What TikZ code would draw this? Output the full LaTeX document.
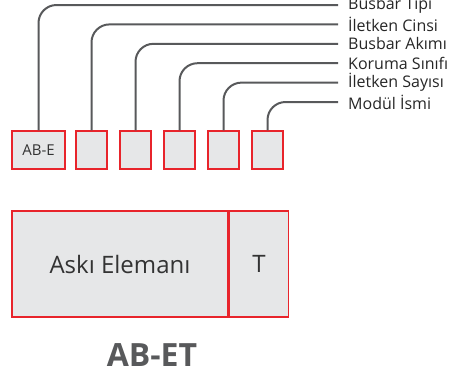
\documentclass[tikz,border=0pt]{standalone}
\usepackage{fontspec}
\setmainfont{Open Sans}
\usetikzlibrary{positioning}
\definecolor{myred}  {RGB}{232, 36, 43}
\definecolor{mygray} {RGB}{230, 231, 232}
\definecolor{myline} {RGB}{88, 89, 91}

\begin{document}
\begin{tikzpicture}[x=1bp, y=-1bp,
        cell/.style={draw=myred, fill=mygray, line width=1.5bp, minimum height=38bp, inner sep=0pt, text=black!80},
        lbl/.style={anchor=west, inner xsep=10bp, inner ysep=0pt, text=black!85, font=\fontsize{16bp}{16bp}\selectfont},
        lead/.style={draw=myline, line width=2bp, rounded corners=18bp}]
        \useasboundingbox (0,0) rectangle (450,378);
        % code boxes
        \node[cell, minimum width=53bp, font=\fontsize{15bp}{16bp}\selectfont] (b0) at (38.5,150) {AB-E};
        \foreach \i/\x in {1/91.5, 2/135.5, 3/179.5, 4/223.5, 5/267.5}
        {
            \node[cell, minimum width=31bp] (b\i) at (\x,150) {};
        }
        % labels and leaders
        \foreach \i/\label in {0/{Busbar Tipi}, 1/{İletken Cinsi}, 2/{Busbar Akımı}, 3/{Koruma Sınıfı}, 4/{İletken Sayısı}, 5/{Modül İsmi}}
        {
            \node[lbl] (l\i) at (338, 5+\i*19.4) {\label};
        }
        \foreach \i in {0,...,5}
            \draw[lead] (b\i.north) |- (l\i.west);
        % product
        \node[cell, minimum width=216bp, minimum height=106bp, font=\fontsize{24bp}{26bp}\selectfont] (ask) at (120,264) {Askı Elemanı};
        \node[cell, minimum width=59bp, minimum height=106bp, right=0pt of ask, font=\fontsize{24bp}{26bp}\selectfont] (t) {T};
        \node[font=\bfseries\fontsize{32bp}{34bp}\selectfont, text=myline] (title) at (152,355) {AB-ET};
    \end{tikzpicture}
\end{document}
